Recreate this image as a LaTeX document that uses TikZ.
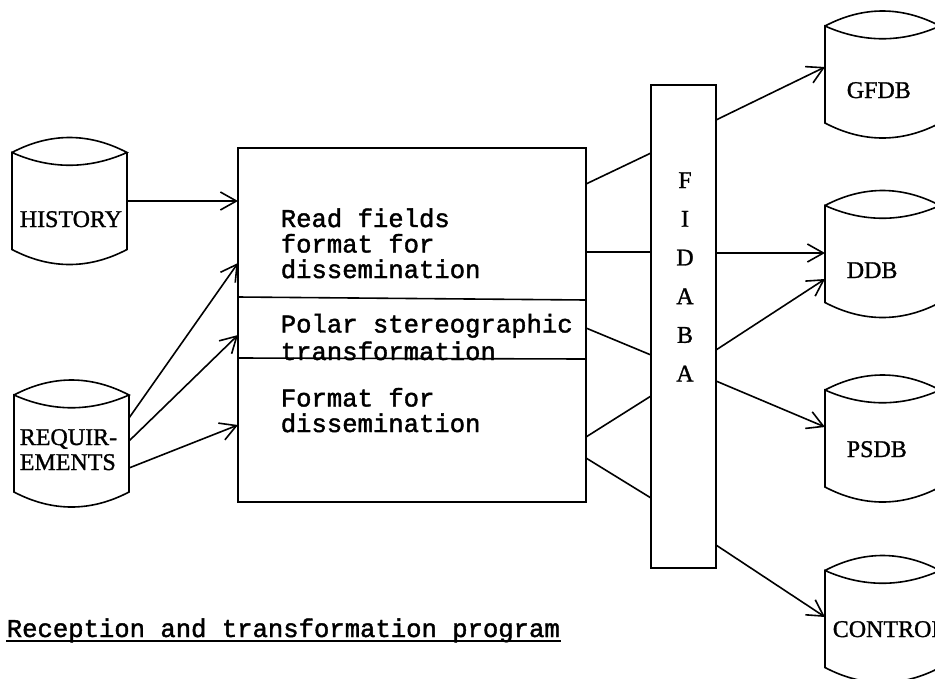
\documentclass[tikz,border=0pt]{standalone}
\usepackage{fontspec}
\setmainfont{Liberation Serif}[FakeBold=1.2]
\setmonofont{Liberation Mono}[FakeBold=1.6]
\usetikzlibrary{arrows.meta}

\tikzset{
  drumbody/.style={minimum width=115pt, minimum height=97pt, inner sep=0pt, outer sep=0pt},
  dbname/.style={font=\fontsize{24}{25}\selectfont, anchor=base west, inner sep=0pt, align=left},
  typed/.style={font=\ttfamily\fontsize{25.6}{25.5}\selectfont, anchor=base west, inner sep=0pt, align=left},
  box/.style={draw, inner sep=0pt, outer sep=0pt},
}

% file drum: name, centre
\newcommand{\dbdrum}[2]{%
  \node[drumbody] (#1) at (#2) {};
  \draw (#1.north west) .. controls +(38,-20) and +(-38,-20) .. (#1.north east)
        .. controls +(-38,17) and +(38,17) .. (#1.north west)
        -- (#1.south west) .. controls +(38,20) and +(-38,20) .. (#1.south east)
        -- (#1.north east);
}

\begin{document}
\begin{tikzpicture}[x=1pt, y=-1pt, line width=1.6pt, >={Straight Barb[length=16pt,width=18pt]}]
    \path[use as bounding box, fill=white] (0,0) rectangle (935,678);
    \clip (0,0) rectangle (935,678);

    % Input files (multi-line texts are placed by their last line)
    \dbdrum{hist}{69.5,201}
    \node[dbname] (histtxt) at (19,227) {HISTORY};
    \dbdrum{req}{71.5,443.5}
    \node[dbname] (reqtxt) at (19,470) {REQUIR-\\EMENTS};

    % Program box
    \node[box, minimum width=348pt, minimum height=354pt] (prog) at (412,325) {};
    \draw ([yshift=28pt]prog.west) -- ([yshift=25pt]prog.east);
    \draw ([yshift=-33pt]prog.west) -- ([yshift=-34pt]prog.east);
    \node[typed] (readtxt) at (280,278) {Read fields\\format for\\dissemination};
    \node[typed, font=\ttfamily\fontsize{25.6}{27.5}\selectfont] (polartxt) at (280,360) {Polar stereographic\\transformation};
    \node[typed] (fmttxt) at (280,432) {Format for\\dissemination};

    % FIDABA
    \node[box, minimum width=65pt, minimum height=483pt] (fid) at (683.5,326.5) {};
    \foreach \l [count=\i] in {F,I,D,A,B,A}
        \node[dbname, anchor=base] (fid\i) at (685,149.3+38.7*\i) {\l};

    % Output files
    \dbdrum{gfdb}{882.5,74.5}
    \node[dbname] (gfdbtxt) at (846,98) {GFDB};
    \dbdrum{ddb}{882.5,254}
    \node[dbname] (ddbtxt) at (846,278) {DDB};
    \dbdrum{psdb}{882.5,438.5}
    \node[dbname] (psdbtxt) at (846,457) {PSDB};
    \dbdrum{ctrl}{882.5,619}
    \node[dbname] (ctrltxt) at (832,637) {CONTROL};

    % Inputs to program
    \draw[->] (hist.east) -- (hist.east -| prog.west);
    \foreach \a/\b in {25.5/62, 2.5/-10, -24.5/-100}
        \draw[->] ([yshift=\a pt]req.east) -- ([yshift=\b pt]prog.west);

    % Program to FIDABA
    \foreach \a/\b in {141/173.5, 73/74.5, -3/-28.5, -112/-69.5, -133/-171.5}
        \draw ([yshift=\a pt]prog.east) -- ([yshift=\b pt]fid.west);

    % FIDABA to output files
    \draw[->] ([yshift=206.5pt]fid.east) -- ([yshift=7.5pt]gfdb.west);
    \draw[->] ([yshift=73.5pt]fid.east) -- ([yshift=1pt]ddb.west);
    \draw[->] ([yshift=-23.5pt]fid.east) -- ([yshift=-25pt]ddb.west);
    \draw[->] ([yshift=-54.5pt]fid.east) -- ([yshift=11.5pt]psdb.west);
    \draw[->] ([yshift=-218.5pt]fid.east) -- ([yshift=2pt]ctrl.west);

    % Caption
    \node[typed] (cap) at (6,637) {Reception and transformation program};
    \draw[line width=1.4pt] ([yshift=-4pt]cap.base west) -- ([yshift=-4pt]cap.base east);
\end{tikzpicture}
\end{document}
